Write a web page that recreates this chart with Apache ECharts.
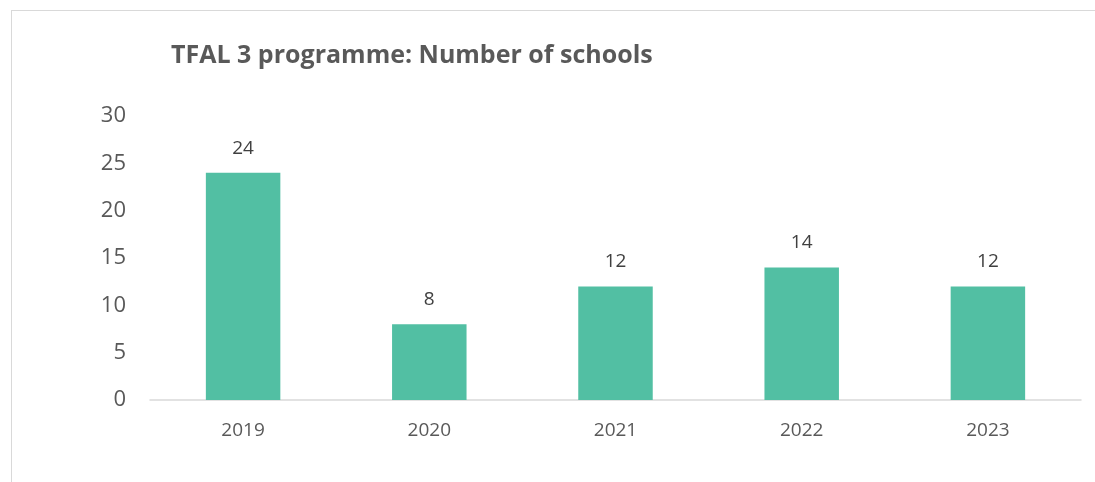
<!DOCTYPE html>
<html><head><meta charset="utf-8">
<script src="https://cdn.jsdelivr.net/npm/echarts@6/dist/echarts.min.js"></script>
<style>
html,body{margin:0;padding:0;background:#fff;overflow:hidden}
#frame{position:absolute;left:11px;top:10px;width:1200px;height:600px;border-left:1px solid #d9d9d9;border-top:1px solid #d9d9d9}
#chart{position:absolute;left:0;top:0;width:1095px;height:482px}
</style></head>
<body>
<div id="frame"></div>
<div id="chart"></div>
<script>
const categories = ['2019','2020','2021','2022','2023'];
const schools = [24, 8, 12, 14, 12];
const titleText = 'TFAL 3 programme: Number of schools';

const chart = echarts.init(document.getElementById('chart'), null, {renderer:'canvas'});
chart.setOption({
  animation:false,
  backgroundColor:'transparent',
  title:{
    text:titleText, left:166, top:38,
    textStyle:{fontFamily:'Open Sans', fontWeight:'bold', fontSize:25, color:'#595959'}
  },
  grid:{left:150, right:14, top:116, bottom:82},
  xAxis:{
    type:'category', data:categories,
    axisLine:{lineStyle:{color:'#d9d9d9', width:1.5}},
    axisTick:{show:false},
    axisLabel:{fontFamily:'Open Sans', fontSize:19, color:'#595959', margin:21}
  },
  yAxis:{
    type:'value', min:0, max:30, interval:5,
    splitLine:{show:false},
    axisLine:{show:false}, axisTick:{show:false},
    axisLabel:{fontFamily:'Open Sans', fontSize:22, color:'#595959', margin:24}
  },
  series:[{
    type:'bar', data:schools, barCategoryGap:'60%',
    itemStyle:{color:'#52BFA3'},
    label:{show:true, position:'top', distance:15, fontFamily:'Open Sans', fontSize:19, color:'#404040'}
  }]
});
</script>
</body></html>
